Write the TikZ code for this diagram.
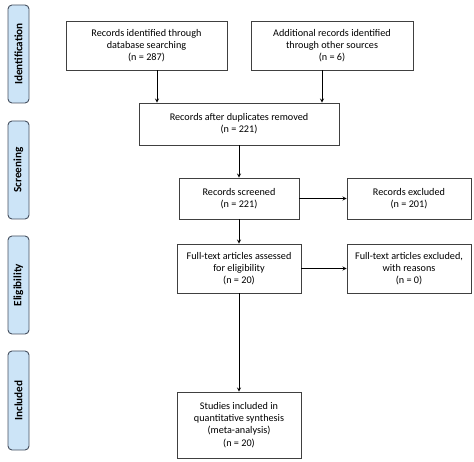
\documentclass[tikz,border=0pt]{standalone}
\usepackage{fontspec}
\setmainfont{Carlito}
\usetikzlibrary{arrows}
\definecolor{phasefill}{RGB}{204,228,247}
\definecolor{phaseedge}{RGB}{70,80,95}
\tikzstyle{box} = [rectangle, draw=black!75, line width=0.9pt, align=center, inner sep=2pt, font=\fontsize{10.2}{12.3}\selectfont]
\tikzstyle{phase} = [rectangle, rounded corners=4pt, draw=phaseedge, line width=0.9pt, fill=phasefill, minimum height=21pt, rotate=90, font=\fontsize{11.2}{12}\selectfont\bfseries]
\tikzstyle{arrow} = [line width=0.8pt,->,>=stealth]

\begin{document}
\begin{tikzpicture}[x=1pt, y=-1pt]
        \useasboundingbox (0,0) rectangle (474,462);

        \node (identification) [phase, minimum width=98pt] at (18.5,54) {Identification};
        \node (screening) [phase, minimum width=98pt] at (18.5,170) {Screening};
        \node (eligibility) [phase, minimum width=98pt] at (18.5,285) {Eligibility};
        \node (included) [phase, minimum width=99pt] at (18.5,400.5) {Included};

        \node (database) [box, minimum width=161pt, minimum height=49pt] at (146.5,45.5) {Records identified through\\database searching\\(n = 287)};
        \node (othersources) [box, minimum width=162pt, minimum height=49pt] at (332,45.5) {Additional records identified\\through other sources\\(n = 6)};
        \node (duplicates) [box, minimum width=200pt, minimum height=42pt] at (239,124) {Records after duplicates removed\\(n = 221)};
        \node (screened) [box, minimum width=120pt, minimum height=41pt] at (239,198.5) {Records screened\\(n = 221)};
        \node (excluded) [box, minimum width=124pt, minimum height=41pt] at (409,198.5) {Records excluded\\(n = 201)};
        \node (fulltext) [box, minimum width=124pt, minimum height=49pt] at (239,268.5) {Full-text articles assessed\\for eligibility\\(n = 20)};
        \node (fulltextexcluded) [box, minimum width=124pt, minimum height=49pt] at (409,268.5) {Full-text articles excluded,\\with reasons\\(n = 0)};
        \node (synthesis) [box, minimum width=124pt, minimum height=66pt] at (239,425) {Studies included in\\quantitative synthesis\\(meta-analysis)\\(n = 20)};

        \draw [arrow] ([xshift=10.5pt]database.south) -- ([xshift=10.5pt]database.south |- duplicates.north);
        \draw [arrow] ([xshift=-10pt]othersources.south) -- ([xshift=-10pt]othersources.south |- duplicates.north);
        \draw [arrow] (duplicates) -- (screened);
        \draw [arrow] (screened) -- (excluded);
        \draw [arrow] (screened) -- (fulltext);
        \draw [arrow] (fulltext) -- (fulltextexcluded);
        \draw [arrow] (fulltext) -- (synthesis);

      \end{tikzpicture}
\end{document}
